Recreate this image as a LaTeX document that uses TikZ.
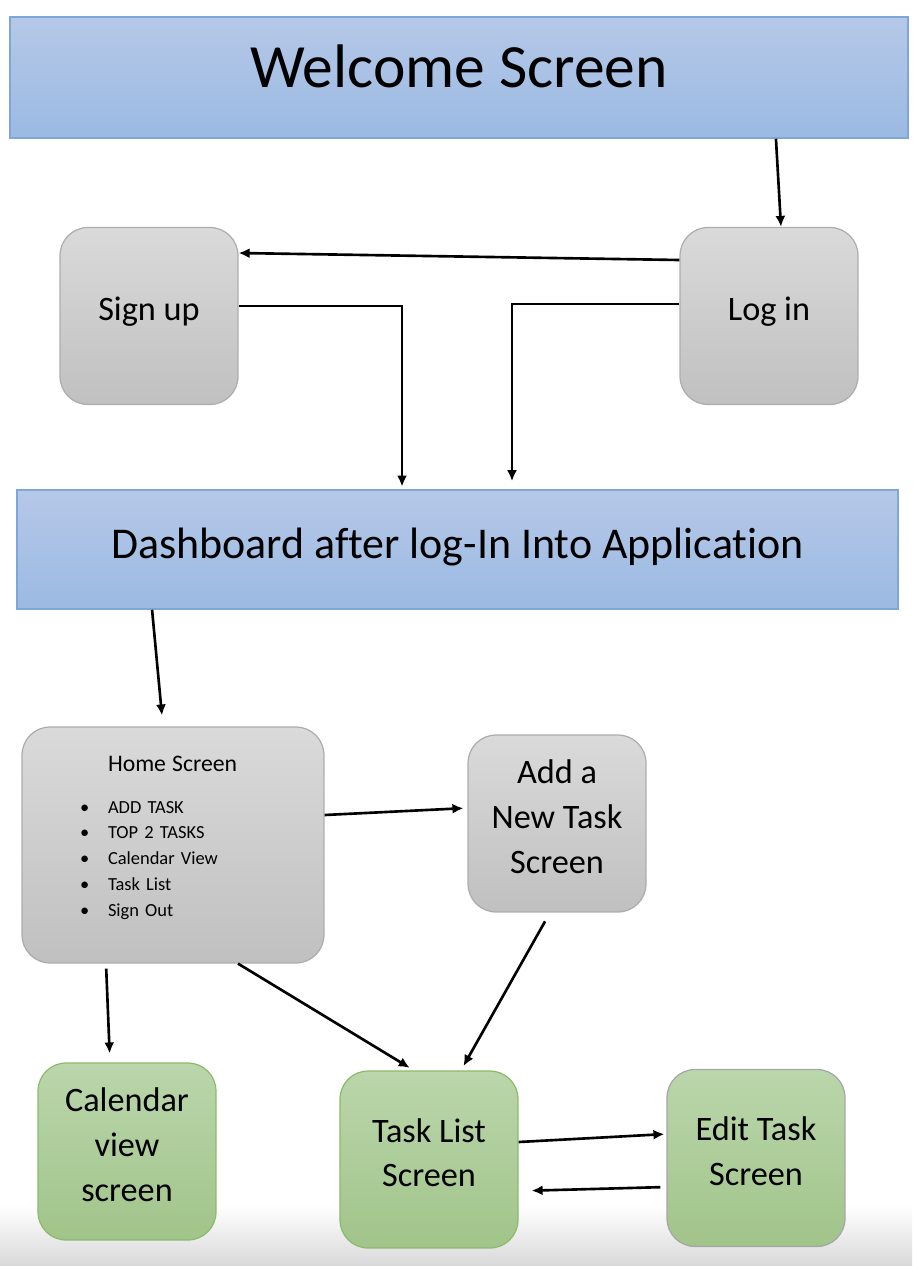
\documentclass[tikz,border=0pt]{standalone}
\usepackage{fontspec}
\setmainfont{Carlito}[Ligatures=NoCommon]
\usepackage{xcolor}
\usetikzlibrary{arrows.meta,positioning,backgrounds}

\definecolor{bannertop}{HTML}{B5C8E8}
\definecolor{bannerbot}{HTML}{9BBAE2}
\definecolor{bannerline}{HTML}{7EA6D9}
\definecolor{greytop}{HTML}{DADADA}
\definecolor{greybot}{HTML}{C0C0C0}
\definecolor{greyline}{HTML}{ADADAD}
\definecolor{greentop}{HTML}{BAD6AB}
\definecolor{greenbot}{HTML}{A1C48A}
\definecolor{greenline}{HTML}{8CBA6C}

\begin{document}
\begin{tikzpicture}[
  x=0.02cm, y=-0.02cm,
  box/.style={rectangle, rounded corners=5.6mm, align=center, minimum width=3.56cm, minimum height=3.54cm, text depth=0.28cm, line width=0.7pt, font=\fontsize{19.5}{25.5}\selectfont},
  banner/.style={rectangle, draw=bannerline, top color=bannertop, bottom color=bannerbot, line width=0.9pt},
  grey/.style={box, draw=greyline, top color=greytop, bottom color=greybot},
  green/.style={box, draw=greenline, top color=greentop, bottom color=greenbot},
  arr/.style={-{Latex[length=2.2mm, width=2mm]}, line width=1.5pt}
]
\useasboundingbox (0,0) rectangle (912,1266);

% page shadow at the bottom
\fill[top color=white, bottom color=black!15] (0,1205) rectangle (912,1266);

% Start
\node[banner, minimum width=17.96cm, minimum height=2.42cm, text height=0.8cm, text depth=0.38cm, font=\fontsize{35}{42}\selectfont] (welcome) at (459,77.5) {Welcome Screen};
\node[grey] (signup) at (149,316) {Sign up};
\node[grey] (login) at (769,316) {Log in};

% Dashboard
\node[banner, minimum width=17.62cm, minimum height=2.38cm, text height=0.6cm, text depth=0.22cm, font=\fontsize{25}{30}\selectfont] (dash) at (457.5,549.5) {Dashboard after log-In Into Application};

% Screens
\node[grey, minimum width=6.04cm, minimum height=4.72cm, align=left, text width=4.4cm, text depth=3.25cm, font=\fontsize{10.5}{14.7}\selectfont] (home) at (173,845)
  {\hspace*{0.9cm}{\fontsize{13.5}{16}\selectfont Home Screen}\\[9pt]
   \hspace*{0.34cm}\makebox[0.56cm][l]{\textbullet}ADD TASK\\
   \hspace*{0.34cm}\makebox[0.56cm][l]{\textbullet}TOP 2 TASKS\\
   \hspace*{0.34cm}\makebox[0.56cm][l]{\textbullet}Calendar View\\
   \hspace*{0.34cm}\makebox[0.56cm][l]{\textbullet}Task List\\
   \hspace*{0.34cm}\makebox[0.56cm][l]{\textbullet}Sign Out};
\node[grey] (add) at (557,823.5) {Add a\\New Task\\Screen};
\node[green] (cal) at (127,1151.5) {Calendar\\view\\screen};
\node[green] (tasklist) at (429,1159.5) {Task List\\Screen};
\node[green, draw=black!35] (edit) at (756,1158) {Edit Task\\Screen};

\draw[arr] ([xshift=6.34cm]welcome.south) -- ([xshift=0.24cm]login.north);
\draw[arr] ([yshift=1.12cm]login.west) -- ([yshift=1.26cm]signup.east);
\draw[arr, shorten >=1.5pt] ([yshift=0.2cm]signup.east) -| ([xshift=-1.11cm]dash.north);
\draw[arr, shorten >=0.16cm] ([yshift=0.24cm]login.west) -| ([xshift=1.09cm]dash.north);
\draw[arr, shorten >=0.22cm] ([xshift=-6.11cm]dash.south) -- ([xshift=-0.2cm]home.north);
\draw[arr, shorten >=0.08cm] ([yshift=0.6cm]home.east) -- ([yshift=0.31cm]add.west);
\draw[arr, shorten <=0.1cm, shorten >=0.18cm] ([xshift=-1.34cm]home.south) -- ([xshift=-0.34cm]cal.north);
\draw[arr, shorten >=0.1cm] ([xshift=1.3cm]home.south) -- ([xshift=-0.3cm]tasklist.north);
\draw[arr, shorten <=0.2cm, shorten >=0.1cm] ([xshift=-0.14cm]add.south) -- ([xshift=0.64cm]tasklist.north);
\draw[arr, shorten >=0.04cm] ([yshift=0.35cm]tasklist.east) -- ([yshift=0.48cm]edit.west);
\draw[arr, shorten <=0.12cm, shorten >=0.26cm] ([yshift=-0.58cm]edit.west) -- ([yshift=-0.63cm]tasklist.east);
\end{tikzpicture}
\end{document}
